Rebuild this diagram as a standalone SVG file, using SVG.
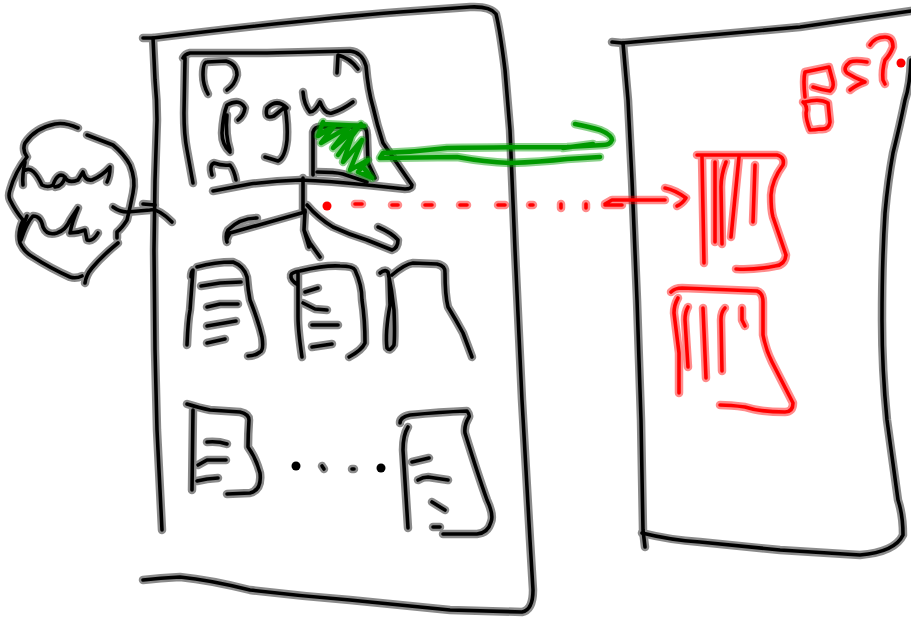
<svg xmlns="http://www.w3.org/2000/svg" width="911" height="619" viewBox="0 0 911 619">
<style>
.ink path{fill:none;stroke-linecap:round;stroke-linejoin:round}
.halo{stroke-width:8.5;opacity:.45}
.core{stroke-width:3.6}
.g.core{stroke-width:4.6}
.k{stroke:#000}.r{stroke:#f00}.g{stroke:#090}
</style>
<defs>
<g id="ink-black" class="ink">
<path d="M143 38L153 38Q300 20 400 12Q440 9 470 7Q490 6 496 14Q500 30 505 70L510 130L515 250L522 400L530 540L533 590Q533 610 522 612L450 610L350 600Q300 596 250 590Q210 580 180 577Q160 578 143 580"/>
<path d="M153 38L155 80Q157 100 157 120L155 180L154 250L155 350L157 430L162 530"/>
<path d="M612 42L622 43L700 36L800 27L911 11"/>
<path d="M623 43L628 100L632 180L637 300L641 420L643 530L645 547"/>
<path d="M642 533Q670 540 700 542L780 550L860 555Q895 552 903 535Q903 515 898 500L887 420Q882 370 882 320Q882 260 885 213Q888 180 893 153Q900 125 905 100Q910 85 911 60"/>
<path d="M183 58Q185 54 190 53L267 53L350 51Q362 52 366 66Q368 90 373 107Q377 125 383 143L412 185Q412 189 405 189L367 185Q330 181 300 180Q275 181 250 184L213 191"/>
<path d="M185 58L184 113Q184 135 187 150L193 183"/>
<path d="M208 94Q203 85 203 75Q203 62 207 62L226 61Q237 64 237 75Q235 85 227 90"/>
<path d="M337 73L338 55Q350 58 358 69"/>
<path d="M230 152Q222 145 222 133Q223 115 227 105Q240 98 245 108Q244 116 238 120M227 115Q225 135 230 150"/>
<path d="M287 108Q277 98 267 108Q264 120 274 116L285 107Q288 125 287 140Q285 158 278 161L265 157"/>
<path d="M303 92Q304 105 310 112Q315 112 320 102Q325 115 332 113Q342 110 353 102"/>
<path d="M313 175L313 132Q315 126 322 127L363 127Q367 128 367 135L368 163L375 178"/>
<path d="M317 172Q335 172 343 174L367 182"/>
<path d="M212 175Q209 165 214 163Q222 166 230 165Q234 170 236 180"/>
<path d="M78 128Q65 122 55 124Q35 128 25 143Q22 150 27 157Q15 172 10 190Q8 196 10 200Q16 212 23 220Q17 233 20 243Q24 252 33 257Q50 268 70 277Q76 279 82 276"/>
<path d="M85 283Q86 275 92 268Q102 256 118 243"/>
<path d="M87 135Q100 140 113 145Q124 154 130 165Q136 180 133 193Q130 208 127 220Q122 228 117 232L117 238"/>
<path d="M25 162Q22 175 23 185M26 170Q33 166 42 185Q48 188 53 185Q58 171 65 177Q63 186 55 187M65 177Q68 184 78 180L83 172Q85 181 92 180Q102 176 110 167Q110 176 107 182"/>
<path d="M20 238Q23 225 27 216M21 240Q27 222 33 216Q41 216 43 227Q47 236 57 233Q66 230 70 220L78 208Q72 222 70 233Q78 233 85 230L87 240Q93 242 98 233"/>
<path d="M113 207Q120 212 127 212L150 210Q158 208 172 222M143 204L155 205"/>
<path d="M303 178L303 210"/>
<path d="M305 212L230 233Q226 240 227 242Q225 235 228 230Q240 218 257 218"/>
<path d="M305 210L304 230Q308 240 310 243L320 257M304 230L309 247"/>
<path d="M307 205Q318 218 333 227Q350 235 367 240L392 250Q398 248 398 240Q392 233 378 227"/>
<path d="M187 345Q188 320 190 310L193 270Q191 272 191 277M197 267Q215 262 233 262Q244 266 247 277Q248 290 250 300Q258 320 262 337Q264 350 260 352Q255 356 248 356"/>
<path d="M201 286L220 283L241 282M207 307L220 304L238 304M207 326L236 321M207 343L225 339"/>
<path d="M302 357Q298 330 298 317L298 273M298 285Q290 280 291 275Q292 272 300 271Q325 265 340 266Q353 266 355 270Q362 285 362 300Q365 320 365 343Q362 350 349 357"/>
<path d="M305 292L318 288M303 303L315 309L327 310M312 325L338 325M312 347L332 344"/>
<path d="M380 273Q385 269 388 272Q392 290 394 310Q395 335 394 345Q390 352 387 348Q385 333 390 305L389 275"/>
<path d="M392 275Q405 264 413 263L437 264Q446 266 445 273Q445 295 448 307Q456 320 463 333L472 357"/>
<path d="M187 404Q200 408 210 410L240 412Q249 414 249 420Q248 435 248 447Q256 458 260 473Q262 490 250 493L227 494"/>
<path d="M193 410L192 490"/>
<path d="M207 442Q218 441 227 444M198 465L207 460L226 460M197 481L207 479L218 478"/>
<path d="M322 466L324 469M352 469L354 469"/>
<path d="M400 423Q400 417 410 415Q440 412 467 411Q470 415 469 417Q464 425 465 433Q478 475 487 500Q494 515 491 522Q488 533 477 534L443 534"/>
<path d="M408 427Q403 435 403 450L408 528"/>
<path d="M412 462L429 458M418 480Q423 477 428 477L448 480M432 502L445 510M433 527L440 527"/>
</g>
<g id="ink-red" class="ink">
<path d="M605 204L612 200L665 200M605 205L622 205"/>
<path d="M665 188Q675 190 686 198Q682 204 677 206"/>
<path d="M697 155L777 155Q785 157 783 165Q772 180 771 195Q771 210 773 217L786 255Q785 265 775 266Q755 270 736 269"/>
<path d="M702 157L704 263M715 162L715 242M726 162Q721 175 721 187L722 244M739 157L731 237M755 165L753 222"/>
<path d="M671 292Q675 288 682 288L757 291Q763 293 763 302L763 335Q766 350 772 362L793 403Q793 412 785 412Q760 412 745 407Q730 405 720 405"/>
<path d="M678 298Q674 305 674 313L679 353L679 393M688 307Q685 312 685 320L688 367M703 308L706 378M725 308Q721 312 721 320L722 371M742 308L742 320L745 326"/>
<path d="M813 87Q822 90 830 91Q834 88 833 82L829 67L805 72Q803 80 805 97"/>
<path d="M803 102Q808 106 806 113Q806 120 810 130Q815 130 820 129Q829 130 830 122L828 103Q820 98 805 102"/>
<path d="M867 62Q855 60 850 62Q842 68 847 73Q855 78 865 82Q858 84 850 90"/>
<path d="M870 45Q875 37 885 37Q893 37 893 47Q890 55 885 60Q882 70 883 80L885 84"/>
<path d="M355 204L362 204M392 205L398 205M425 205L432 205M460 205L467 205M498 205L505 205M530 205L533 205M561 204L561 208M586 204L586 208"/>
</g>
<g id="ink-green" class="ink">
<path d="M575 124Q590 127 600 130Q612 135 612 140Q610 145 603 145L567 147Q500 147 447 148Q415 152 383 153L380 158L457 157Q485 162 510 163Q540 162 567 159L600 157M563 148L593 144"/>
<path d="M323 122L318 136L335 125L321 143L350 126L333 148L361 124L338 155L352 136L343 162L362 140L350 170L368 160L358 172L372 178L362 166M322 124L364 126"/>
</g>
</defs>
<g id="sketch-black">
<use href="#ink-black" class="k halo"/>
<use href="#ink-black" class="k core"/>
<circle cx="296" cy="466" r="4.5"/>
<circle cx="381" cy="468" r="4.5"/>
</g>
<g id="sketch-red">
<use href="#ink-red" class="r halo"/>
<use href="#ink-red" class="r core"/>
<circle cx="327" cy="206" r="4.5" fill="#f00"/>
<circle cx="901" cy="63" r="4.5" fill="#f00"/>
</g>
<g id="sketch-green">
<use href="#ink-green" class="g halo"/>
<use href="#ink-green" class="g core"/>
</g>
</svg>
